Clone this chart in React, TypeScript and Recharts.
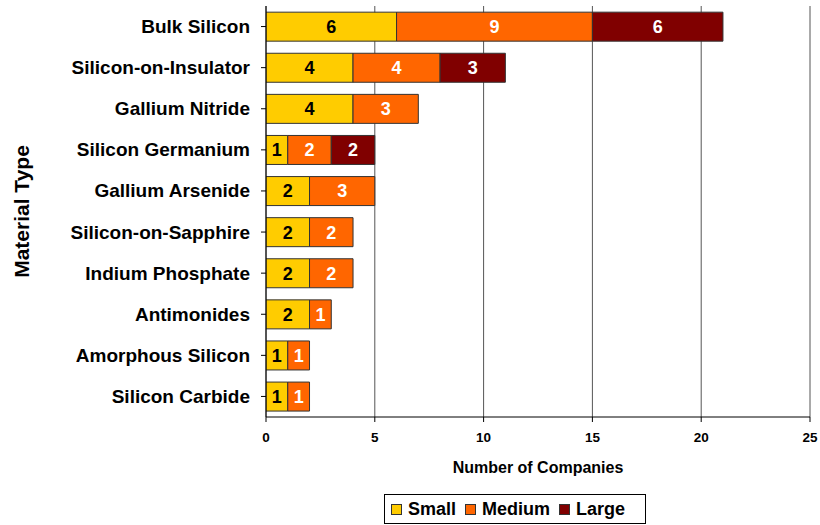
import React from 'react';
import { BarChart, Bar, XAxis, YAxis, CartesianGrid, LabelList, Legend } from 'recharts';

const categories = [
  'Bulk Silicon',
  'Silicon-on-Insulator',
  'Gallium Nitride',
  'Silicon Germanium',
  'Gallium Arsenide',
  'Silicon-on-Sapphire',
  'Indium Phosphate',
  'Antimonides',
  'Amorphous Silicon',
  'Silicon Carbide',
];
const small = [6, 4, 4, 1, 2, 2, 2, 2, 1, 1];
const medium = [9, 4, 3, 2, 3, 2, 2, 1, 1, 1];
const large: (number | null)[] = [6, 3, null, 2, null, null, null, null, null, null];
const xTicks = [0, 5, 10, 15, 20, 25];

const seriesNames = ['Small', 'Medium', 'Large'];
const colors = ['#FFCC00', '#FF6600', '#800000'];
const labelColors = ['#000000', '#FFFFFF', '#FFFFFF'];

const data = categories.map((name, i) => ({
  name,
  Small: small[i],
  Medium: medium[i],
  Large: large[i],
}));

const FONT = '"Liberation Sans", Arial, Helvetica, sans-serif';

const YTick = (props: any) => {
  const { x, y, payload } = props;
  return (
    <text x={x} y={y} textAnchor="end" dominantBaseline="central" fontFamily={FONT} fontWeight="bold" fontSize={19} fill="#000">
      {payload.value}
    </text>
  );
};

const LegendContent = () => (
  <div
    style={{
      display: 'flex',
      alignItems: 'center',
      border: '1px solid #000',
      boxSizing: 'border-box',
      height: 30,
      width: 262,
      paddingLeft: 6,
      fontFamily: FONT,
      fontWeight: 'bold',
      fontSize: 18,
      color: '#000',
      background: '#fff',
    }}
  >
    {seriesNames.map((n, i) => (
      <div key={n} style={{ display: 'flex', alignItems: 'center', marginRight: i < 2 ? 9 : 0 }}>
        <span
          style={{
            display: 'inline-block',
            width: 11,
            height: 11,
            background: colors[i],
            border: '1px solid #333',
            boxSizing: 'border-box',
            marginRight: 6,
          }}
        />
        <span>{n}</span>
      </div>
    ))}
  </div>
);

const fmt = (v: any) => (v === null || v === undefined || v === 0 ? '' : v);

export default function App() {
  return (
    <div style={{ position: 'absolute', left: 0, top: 0, width: 820, height: 525, background: '#fff' }}>
      <BarChart
        width={820}
        height={525}
        data={data}
        layout="vertical"
        margin={{ top: 6, right: 10, bottom: 48, left: 0 }}
        barCategoryGap="15%"
      >
        <CartesianGrid horizontal={false} vertical stroke="#555" />
        <XAxis
          type="number"
          domain={[0, 25]}
          ticks={xTicks}
          allowDataOverflow
          height={60}
          tickSize={5}
          tickMargin={10}
          axisLine={{ stroke: '#000' }}
          tickLine={{ stroke: '#000' }}
          tick={{ fill: '#000', fontFamily: FONT, fontWeight: 'bold', fontSize: 13.5 }}
          label={{
            value: 'Number of Companies',
            position: 'insideBottom',
            offset: 4,
            fill: '#000',
            fontFamily: FONT,
            fontWeight: 'bold',
            fontSize: 16,
          }}
        />
        <YAxis
          type="category"
          dataKey="name"
          width={266}
          tickSize={5}
          tickMargin={11}
          axisLine={{ stroke: '#000' }}
          tickLine={{ stroke: '#000' }}
          tick={<YTick />}
          interval={0}
          label={{
            content: (p: any) => {
              const vb = p.viewBox || {};
              const cy = (vb.y ?? 6) + (vb.height ?? 411) / 2;
              return (
                <text
                  x={21}
                  y={cy}
                  transform={`rotate(-90, 21, ${cy})`}
                  textAnchor="middle"
                  dominantBaseline="central"
                  fontFamily={FONT}
                  fontWeight="bold"
                  fontSize={21}
                  fill="#000"
                >
                  Material Type
                </text>
              );
            },
          }}
        />
        <Legend
          layout="horizontal"
          verticalAlign="middle"
          align="center"
          content={<LegendContent />}
          wrapperStyle={{ top: 494, left: 384, width: 262, height: 30 }}
        />
        {seriesNames.map((n, i) => (
          <Bar
            key={n}
            dataKey={n}
            stackId="a"
            fill={colors[i]}
            stroke="#333"
            strokeWidth={1}
            isAnimationActive={false}
          >
            <LabelList
              dataKey={n}
              position="center"
              formatter={fmt}
              fill={labelColors[i]}
              fontFamily={FONT}
              fontWeight="bold"
              fontSize={18}
            />
          </Bar>
        ))}
      </BarChart>
    </div>
  );
}
